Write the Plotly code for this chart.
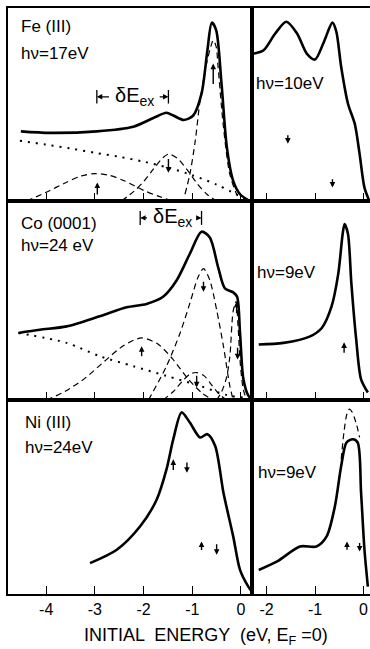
import plotly.graph_objects as go

# ---------------- data (initial energy eV, intensity arb. units) ----------------
# Fe(111) hv=17 eV  (left top)
FE17_SOLID_X = [-4.52, -3.92, -2.96, -2.21, -1.80, -1.53, -1.39, -1.18, -0.98, -0.81, -0.69, -0.60, -0.51, -0.40, -0.29, -0.16, -0.02, 0.18]
FE17_SOLID_Y = [36.1, 35.3, 36.1, 38.5, 43.0, 45.7, 44.3, 42.0, 44.3, 55.6, 78.0, 92.4, 88.5, 60.8, 27.8, 10.4, 3.5, 0.0]
FE17_DOT_X = [-4.54, -4.0, -3.5, -3.0, -2.5, -2.0, -1.5, -1.0, -0.5, -0.2, 0.18]
FE17_DOT_Y = [31.2, 29.2, 27.2, 25.0, 22.9, 20.4, 17.3, 13.4, 8.5, 4.8, 0.0]
FE17_DASH1_X = [-4.4, -4.0, -3.6, -3.3, -3.0, -2.7, -2.4, -2.0, -1.7, -1.4]
FE17_DASH1_Y = [0.0, 4.5, 9.5, 12.8, 14.2, 13.3, 10.5, 5.5, 2.5, 0.0]
FE17_DASH2_X = [-2.45, -2.2, -2.0, -1.8, -1.6, -1.48, -1.3, -1.1, -0.9, -0.7, -0.5]
FE17_DASH2_Y = [0.0, 5.0, 10.0, 16.5, 22.5, 24.3, 22.0, 16.0, 9.0, 3.5, 0.0]
FE17_DASH3_X = [-1.15, -1.05, -0.94, -0.84, -0.70, -0.62, -0.57, -0.51, -0.47, -0.36, -0.23, -0.09, -0.02]
FE17_DASH3_Y = [3.5, 13.9, 31.0, 52.0, 72.0, 80.0, 83.3, 80.0, 69.4, 38.2, 13.9, 3.5, 0.5]
FE17_ARROWS = [(-2.95, 2.6, 9.6), (-1.49, 22.5, 14.7), (-0.57, 59.9, 71.2)]  # (x, tail, head)

# Fe(111) hv=10 eV  (right top)
FE10_SOLID_X = [-2.26, -2.06, -1.82, -1.59, -1.37, -1.17, -1.00, -0.83, -0.64, -0.56, -0.46, -0.32, -0.18, -0.08, 0.02, 0.12]
FE10_SOLID_Y = [76.4, 78.1, 86.8, 92.9, 86.8, 76.4, 73.3, 81.6, 92.4, 87.7, 69.4, 50.4, 40.0, 24.3, 6.9, 0.0]
FE10_ARROWS = [(-1.56, 34.9, 29.7), (-0.64, 12.0, 7.0)]

# Co(0001) hv=24 eV  (left middle)
CO24_SOLID_X = [-4.57, -4.13, -3.58, -2.90, -2.35, -1.94, -1.60, -1.32, -1.05, -0.81, -0.64, -0.47, -0.33, -0.16, -0.08, -0.02, 0.05, 0.15, 0.22]
CO24_SOLID_Y = [33.7, 35.3, 37.0, 42.1, 46.6, 48.3, 51.9, 60.2, 73.5, 84.6, 81.7, 66.8, 56.1, 54.1, 51.9, 33.7, 10.4, 2.2, 0.5]
CO24_DOT_X = [-4.57, -3.58, -2.90, -2.21, -1.53, -0.84, -0.29, 0.18]
CO24_DOT_Y = [33.7, 28.7, 22.0, 17.0, 12.1, 7.1, 2.5, 0.8]
CO24_DASHA_X = [-3.99, -3.6, -3.2, -2.8, -2.4, -2.04, -1.7, -1.4, -1.1, -0.8, -0.57]
CO24_DASHA_Y = [0.0, 4.5, 11.0, 19.5, 27.5, 31.2, 28.0, 20.5, 11.0, 3.5, 0.0]
CO24_DASHB_X = [-1.6, -1.4, -1.2, -1.05, -0.91, -0.75, -0.6, -0.45, -0.3]
CO24_DASHB_Y = [0.0, 4.0, 9.5, 13.0, 13.8, 12.0, 7.5, 3.0, 0.0]
CO24_DASHC_X = [-1.90, -1.53, -1.25, -1.05, -0.88, -0.77, -0.64, -0.50, -0.36, -0.23, -0.16]
CO24_DASHC_Y = [0.0, 17.0, 33.7, 48.6, 61.8, 66.0, 60.2, 45.3, 27.0, 7.1, 0.0]
CO24_DASHD_X = [-0.5, -0.4, -0.3, -0.23, -0.16, -0.10, -0.06, -0.01, 0.05, 0.12]
CO24_DASHD_Y = [0.0, 4.0, 11.0, 21.5, 44.8, 49.4, 37.0, 17.0, 5.0, 0.0]
CO24_ARROWS = [(-2.04, 21.2, 27.0), (-0.77, 60.2, 54.4), (-0.91, 12.9, 6.3), (-0.09, 42.8, 49.4), (-0.07, 27.0, 20.4)]

# Co(0001) hv=9 eV  (right middle)
CO9_SOLID_X = [-2.16, -1.65, -1.10, -0.86, -0.66, -0.52, -0.43, -0.39, -0.32, -0.25, -0.15, -0.05, 0.09]
CO9_SOLID_Y = [27.9, 28.7, 32.0, 36.2, 46.9, 63.5, 83.4, 88.4, 83.4, 58.5, 30.3, 10.4, 3.8]
CO9_ARROWS = [(-0.40, 23.0, 29.0)]

# Ni(111) hv=24 eV  (left bottom)
NI24_SOLID_X = [-3.10, -2.55, -2.07, -1.73, -1.53, -1.39, -1.22, -1.05, -0.84, -0.69, -0.53, -0.36, -0.16, -0.02, 0.15, 0.25]
NI24_SOLID_Y = [15.9, 22.8, 34.9, 48.7, 64.2, 79.8, 93.6, 88.4, 80.7, 82.4, 76.3, 52.2, 29.7, 12.4, 3.8, 0.4]
NI24_ARROWS = [(-1.39, 63.2, 69.4), (-1.11, 68.5, 62.5), (-0.81, 21.9, 27.1), (-0.50, 26.4, 20.2)]

# Ni(111) hv=9 eV  (right bottom)
NI9_SOLID_X = [-2.16, -1.78, -1.31, -0.97, -0.76, -0.59, -0.46, -0.35, -0.22, -0.12, -0.05, 0.02, 0.09]
NI9_SOLID_Y = [12.4, 16.8, 24.5, 24.5, 29.7, 45.2, 66.0, 78.1, 79.8, 78.1, 52.2, 22.8, 3.8]
NI9_DASH_X = [-0.46, -0.40, -0.34, -0.29, -0.24, -0.19, -0.14, -0.08]
NI9_DASH_Y = [69.4, 84.0, 93.0, 95.3, 94.0, 91.0, 87.0, 80.7]
NI9_ARROWS = [(-0.34, 22.0, 27.1), (-0.08, 27.0, 21.9)]

# delta E_ex brackets (x start, x end, level)
DEEX_FE = (-2.96, -1.49, 54.0)
DEEX_CO = (-2.07, -0.81, 91.5)

LEFT_TICKS = [-4, -3, -2, -1, 0]
LEFT_TICKTEXT = ["-4", "-3", "-2", "-1", "0"]
RIGHT_TICKS = [-2, -1, 0]
RIGHT_TICKTEXT = ["-2", "-1", "0"]

# ---------------- figure ----------------
W, H = 370, 649
FONT = "Liberation Sans Narrow, Liberation Sans, Arial, sans-serif"

def px_x(p):
    return p / W

def px_y(p):
    return 1 - p / H

LEFT_DOM = [px_x(8), px_x(252)]
RIGHT_DOM = [px_x(252), 1.0]
ROWS = [(8, 201), (201, 400), (400, 594)]
LEFT_RANGE = [-4.784, 0.226]
RIGHT_RANGE = [-2.299, 0.134]

fig = go.Figure()

SOLID = dict(color="black", width=2.6, shape="spline", smoothing=0.8)
DASH = dict(color="black", width=1.2, dash="6px,4px", shape="spline", smoothing=0.8)
DOT = dict(color="black", width=2.0, dash="2px,6px", shape="spline", smoothing=0.8)

def add(xs, ys, line, ax):
    fig.add_trace(go.Scatter(x=xs, y=ys, mode="lines", line=line,
                             xaxis="x" + ax, yaxis="y" + ax, hoverinfo="skip", showlegend=False))

# panel 1: Fe 17
add(FE17_DOT_X, FE17_DOT_Y, DOT, "1")
add(FE17_DASH1_X, FE17_DASH1_Y, DASH, "1")
add(FE17_DASH2_X, FE17_DASH2_Y, DASH, "1")
add(FE17_DASH3_X, FE17_DASH3_Y, DASH, "1")
add(FE17_SOLID_X, FE17_SOLID_Y, SOLID, "1")
# panel 2: Fe 10
add(FE10_SOLID_X, FE10_SOLID_Y, SOLID, "2")
# panel 3: Co 24
add(CO24_DOT_X, CO24_DOT_Y, DOT, "3")
add(CO24_DASHA_X, CO24_DASHA_Y, DASH, "3")
add(CO24_DASHB_X, CO24_DASHB_Y, DASH, "3")
add(CO24_DASHC_X, CO24_DASHC_Y, DASH, "3")
add(CO24_DASHD_X, CO24_DASHD_Y, DASH, "3")
add(CO24_SOLID_X, CO24_SOLID_Y, SOLID, "3")
# panel 4: Co 9
add(CO9_SOLID_X, CO9_SOLID_Y, SOLID, "4")
# panel 5: Ni 24
add(NI24_SOLID_X, NI24_SOLID_Y, SOLID, "5")
# panel 6: Ni 9
add(NI9_DASH_X, NI9_DASH_Y, DASH, "6")
add(NI9_SOLID_X, NI9_SOLID_Y, SOLID, "6")

layout = dict(width=W, height=H, margin=dict(l=0, r=0, t=0, b=0),
              paper_bgcolor="white", plot_bgcolor="white", showlegend=False)

for i in range(6):
    row = i // 2
    left = (i % 2 == 0)
    n = "" if i == 0 else str(i + 1)
    top, bot = ROWS[row]
    xa = dict(domain=LEFT_DOM if left else RIGHT_DOM,
              range=LEFT_RANGE if left else RIGHT_RANGE,
              anchor="y" + (n if n else ""),
              showline=True, linecolor="black", linewidth=2, mirror=True,
              ticks="inside", ticklen=8, tickwidth=1.3, tickcolor="black",
              tickvals=LEFT_TICKS if left else RIGHT_TICKS,
              ticktext=LEFT_TICKTEXT if left else RIGHT_TICKTEXT,
              showticklabels=(row == 2),
              tickfont=dict(family=FONT, size=16, color="black"),
              showgrid=False, zeroline=False, fixedrange=True)
    ya = dict(domain=[px_y(bot), px_y(top)], range=[0, 100],
              anchor="x" + (n if n else ""),
              showline=True, linecolor="black", linewidth=2, mirror=left,
              ticks="", showticklabels=False, showgrid=False, zeroline=False, fixedrange=True)
    layout["xaxis" + n] = xa
    layout["yaxis" + n] = ya

fig.update_layout(**layout)

annots = []

def ref(ax):
    return ("x" if ax == "1" else "x" + ax), ("y" if ax == "1" else "y" + ax)

def arrows(lst, ax):
    xr, yr = ref(ax)
    for x, yt, yh in lst:
        annots.append(dict(x=x, y=yh, ax=x, ay=yt, xref=xr, yref=yr, axref=xr, ayref=yr,
                           text="", showarrow=True, arrowhead=2, arrowsize=0.8,
                           arrowwidth=1.4, arrowcolor="black", standoff=0, startstandoff=0))

arrows(FE17_ARROWS, "1")
arrows(FE10_ARROWS, "2")
arrows(CO24_ARROWS, "3")
arrows(CO9_ARROWS, "4")
arrows(NI24_ARROWS, "5")
arrows(NI9_ARROWS, "6")

def deex(spec, ax, tail_l, tail_r, tx):
    xr, yr = ref(ax)
    x0, x1, yv = spec
    for xh, xt in ((x0, tail_l), (x1, tail_r)):
        annots.append(dict(x=xh, y=yv, ax=xt, ay=yv, xref=xr, yref=yr, axref=xr, ayref=yr,
                           text="", showarrow=True, arrowhead=2, arrowsize=0.9,
                           arrowwidth=1.2, arrowcolor="black", standoff=0, startstandoff=0))
        fig.add_shape(type="line", x0=xh, x1=xh, y0=yv - 3.5, y1=yv + 3.5, xref=xr, yref=yr,
                      line=dict(color="black", width=1.3))
    annots.append(dict(x=tx, y=yv, xref=xr, yref=yr, text="δE<sub>ex</sub>", showarrow=False,
                       font=dict(family=FONT, size=20, color="black"), xanchor="center", yanchor="middle"))

deex(DEEX_FE, "1", -2.68, -1.70, -2.19)
deex(DEEX_CO, "3", -1.90, -0.93, -1.40)

def label(text, xp, yp, size=17):
    annots.append(dict(x=px_x(xp), y=px_y(yp), xref="paper", yref="paper", text=text,
                       showarrow=False, xanchor="left", yanchor="middle",
                       font=dict(family=FONT, size=size, color="black")))

label("Fe (III)", 19, 27)
label("hν=17eV", 19, 53)
label("hν=10eV", 254, 83)
label("Co (0001)", 19, 223)
label("hν=24 eV", 19, 245)
label("hν=9eV", 255, 272)
label("Ni (III)", 23, 422)
label("hν=24eV", 23, 447)
label("hν=9eV", 256, 472)

annots.append(dict(x=px_x(206), y=px_y(636), xref="paper", yref="paper",
                   text="INITIAL  ENERGY  (eV, E<sub>F</sub> =0)", showarrow=False,
                   xanchor="center", yanchor="middle",
                   font=dict(family=FONT, size=18, color="black")))

fig.update_layout(annotations=annots)
fig.write_html("out.html", config={"displayModeBar": False},
               post_script="document.body.style.margin='0';document.body.style.padding='0';"
                           "document.body.style.overflow='hidden';")
